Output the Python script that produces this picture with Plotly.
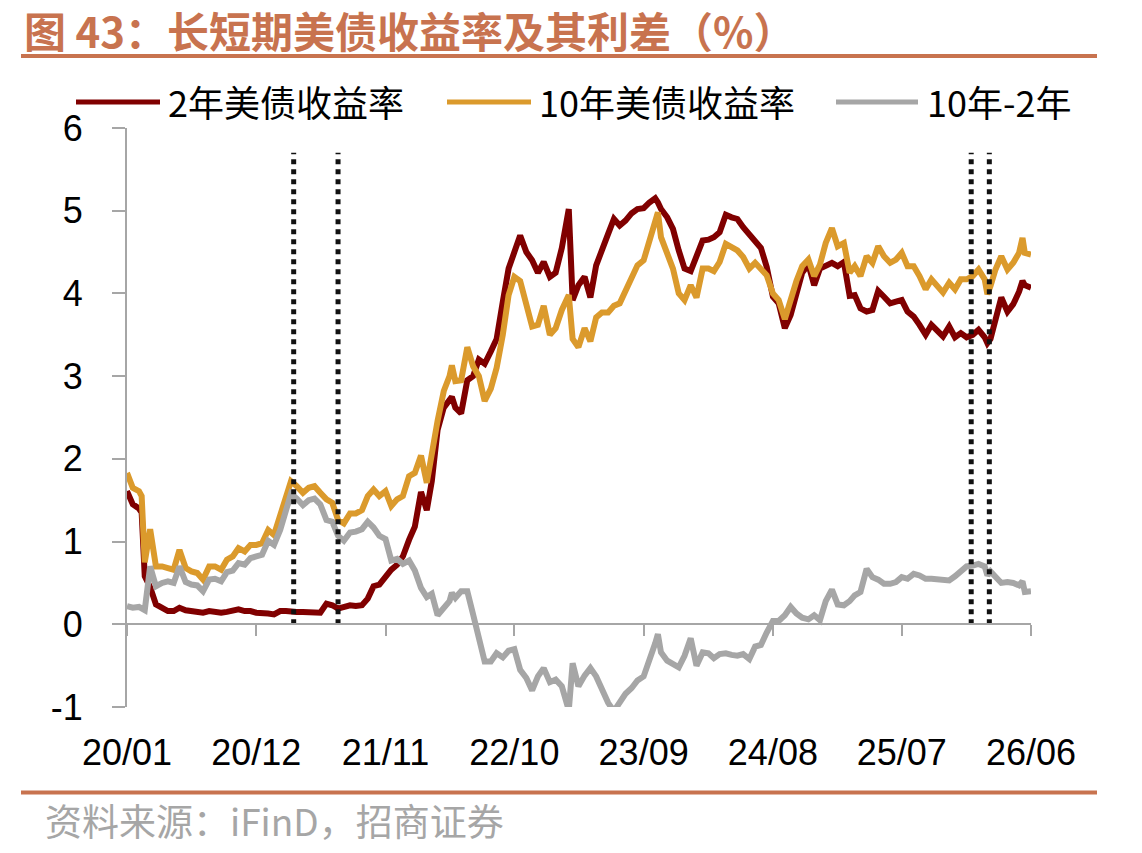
import plotly.graph_objects as go

# ---------------- data ----------------
dates = [
    "2020-01-01", "2020-01-16", "2020-02-01", "2020-02-08", "2020-02-16", "2020-03-01", "2020-03-16",
    "2020-04-01", "2020-04-16", "2020-05-01", "2020-05-16", "2020-06-01", "2020-06-16", "2020-07-01",
    "2020-07-16", "2020-08-01", "2020-08-16", "2020-09-01", "2020-09-16", "2020-10-01", "2020-10-16",
    "2020-11-01", "2020-11-16", "2020-12-01", "2020-12-16", "2021-01-01", "2021-01-16", "2021-02-01",
    "2021-02-16", "2021-03-01", "2021-03-16", "2021-04-01", "2021-04-16", "2021-05-01", "2021-05-16",
    "2021-06-01", "2021-06-16", "2021-07-01", "2021-07-16", "2021-08-01", "2021-08-16", "2021-09-01",
    "2021-09-16", "2021-10-01", "2021-10-16", "2021-11-01", "2021-11-16", "2021-12-01", "2021-12-16",
    "2022-01-01", "2022-01-16", "2022-02-01", "2022-02-16", "2022-03-01", "2022-03-16", "2022-04-01",
    "2022-04-16", "2022-04-22", "2022-05-01", "2022-05-16", "2022-06-01", "2022-06-16", "2022-07-01",
    "2022-07-16", "2022-08-01", "2022-08-16", "2022-09-01", "2022-09-16", "2022-10-01", "2022-10-16",
    "2022-11-01", "2022-11-16", "2022-12-01", "2022-12-16", "2023-01-01", "2023-01-16", "2023-02-01",
    "2023-02-19", "2023-03-01", "2023-03-16", "2023-04-01", "2023-04-16", "2023-05-01", "2023-05-16",
    "2023-06-01", "2023-06-16", "2023-07-01", "2023-07-16", "2023-08-01", "2023-08-16", "2023-09-01",
    "2023-09-16", "2023-10-01", "2023-10-08", "2023-10-16", "2023-11-01", "2023-11-16", "2023-12-01",
    "2023-12-16", "2024-01-01", "2024-01-16", "2024-02-01", "2024-02-16", "2024-03-01", "2024-03-16",
    "2024-04-01", "2024-04-16", "2024-05-01", "2024-05-16", "2024-06-01", "2024-06-16", "2024-07-01",
    "2024-07-16", "2024-08-01", "2024-08-16", "2024-09-01", "2024-09-16", "2024-10-01", "2024-10-16",
    "2024-11-01", "2024-11-16", "2024-12-01", "2024-12-16", "2025-01-01", "2025-01-16", "2025-02-01",
    "2025-02-16", "2025-03-01", "2025-03-16", "2025-04-01", "2025-04-16", "2025-05-01", "2025-05-16",
    "2025-06-01", "2025-06-16", "2025-07-01", "2025-07-16", "2025-08-01", "2025-08-16", "2025-09-01",
    "2025-09-16", "2025-10-01", "2025-10-16", "2025-11-01", "2025-11-16", "2025-12-01", "2025-12-16",
    "2026-01-01", "2026-01-16", "2026-02-01", "2026-02-08", "2026-02-16", "2026-03-01", "2026-03-16",
    "2026-04-01", "2026-04-16", "2026-05-01", "2026-05-10", "2026-05-16", "2026-06-01",
]

yield_10y = [
    1.83, 1.65, 1.61, 1.55, 0.75, 1.15, 0.70,
    0.70, 0.68, 0.66, 0.90, 0.68, 0.64, 0.62,
    0.54, 0.70, 0.70, 0.66, 0.78, 0.82, 0.92,
    0.88, 0.96, 0.96, 0.98, 1.14, 1.08, 1.30,
    1.52, 1.73, 1.67, 1.59, 1.65, 1.67, 1.59,
    1.51, 1.47, 1.26, 1.22, 1.34, 1.34, 1.38,
    1.55, 1.63, 1.55, 1.61, 1.43, 1.51, 1.55,
    1.79, 1.83, 2.04, 1.71, 2.10, 2.46, 2.82,
    3.00, 3.13, 2.94, 2.95, 3.35, 3.12, 3.00,
    2.70, 2.85, 3.10, 3.50, 3.98, 4.20, 4.15,
    3.85, 3.60, 3.62, 3.85, 3.50, 3.58, 3.80,
    3.98, 3.45, 3.35, 3.58, 3.42, 3.71, 3.77,
    3.77, 3.85, 3.88, 4.04, 4.20, 4.34, 4.40,
    4.65, 4.92, 4.98, 4.68, 4.48, 4.30, 4.00,
    3.92, 4.10, 3.95, 4.30, 4.30, 4.27, 4.38,
    4.60, 4.55, 4.52, 4.44, 4.30, 4.37, 4.30,
    4.22, 4.00, 3.92, 3.69, 3.95, 4.15, 4.33,
    4.41, 4.21, 4.35, 4.61, 4.79, 4.57, 4.61,
    4.25, 4.33, 4.21, 4.45, 4.37, 4.57, 4.45,
    4.37, 4.41, 4.49, 4.33, 4.33, 4.21, 4.05,
    4.17, 4.09, 4.01, 4.13, 4.05, 4.17, 4.17,
    4.21, 4.29, 4.17, 3.99, 4.09, 4.29, 4.45,
    4.29, 4.37, 4.49, 4.67, 4.49, 4.47,
]

yield_2y = [
    1.61, 1.45, 1.40, 1.35, 0.58, 0.45, 0.24,
    0.20, 0.16, 0.16, 0.20, 0.17, 0.16, 0.15,
    0.14, 0.16, 0.15, 0.14, 0.15, 0.17, 0.18,
    0.16, 0.16, 0.14, 0.14, 0.13, 0.12, 0.16,
    0.16, 0.15, 0.15, 0.15, 0.15, 0.15, 0.14,
    0.25, 0.23, 0.19, 0.21, 0.23, 0.22, 0.23,
    0.31, 0.46, 0.48, 0.58, 0.66, 0.72, 0.82,
    1.02, 1.18, 1.60, 1.38, 1.73, 2.35, 2.62,
    2.72, 2.75, 2.62, 2.55, 2.95, 3.00, 3.20,
    3.15, 3.30, 3.45, 3.90, 4.30, 4.50, 4.70,
    4.50, 4.40, 4.25, 4.38, 4.20, 4.25, 4.55,
    5.02, 3.92, 4.10, 4.20, 3.95, 4.34, 4.55,
    4.72, 4.90, 4.82, 4.88, 4.97, 5.02, 5.03,
    5.10, 5.15, 5.10, 5.02, 4.92, 4.78, 4.52,
    4.30, 4.27, 4.45, 4.64, 4.65, 4.68, 4.74,
    4.95, 4.92, 4.90, 4.80, 4.72, 4.64, 4.55,
    4.32, 3.96, 3.88, 3.58, 3.74, 4.02, 4.25,
    4.35, 4.10, 4.30, 4.33, 4.37, 4.33, 4.38,
    3.97, 3.98, 3.82, 3.78, 3.80, 4.03, 3.96,
    3.88, 3.90, 3.92, 3.78, 3.72, 3.62, 3.50,
    3.62, 3.55, 3.48, 3.60, 3.47, 3.52, 3.47,
    3.50, 3.56, 3.47, 3.40, 3.45, 3.71, 3.95,
    3.78, 3.87, 4.02, 4.15, 4.10, 4.07,
]

spread_10y_2y = [round(a - b, 2) for a, b in zip(yield_10y, yield_2y)]

marker_dates = ["2021-03-08", "2021-07-01", "2025-12-28", "2026-02-13"]
marker_top = 5.7

tick_dates = ["2020-01-01", "2020-12-01", "2021-11-01", "2022-10-01",
              "2023-09-01", "2024-08-01", "2025-07-01", "2026-06-01"]
tick_labels = ["20/01", "20/12", "21/11", "22/10", "23/09", "24/08", "25/07", "26/06"]
y_ticks = [-1, 0, 1, 2, 3, 4, 5, 6]
y_tick_labels = ["-1", "0", "1", "2", "3", "4", "5", "6"]

series_names = ["2年美债收益率", "10年美债收益率", "10年-2年"]
series_colors = ["#800000", "#DB9A2C", "#A6A6A6"]

title_text = "图 43：长短期美债收益率及其利差（%）"
source_text = "资料来源：iFinD，招商证券"

# ---------------- layout constants ----------------
W, H = 1142, 853
ML, MR, MT, MB = 127, 111, 128, 146
PW, PH = W - ML - MR, H - MT - MB
ACCENT = "#C8734F"
AXIS = "#A6A6A6"
CJK = "Noto Sans CJK SC"
LATIN = "Liberation Sans, Arial"


def px(xp):
    return (xp - ML) / PW


def py(yp):
    return (H - MB - yp) / PH


fig = go.Figure()

for name, vals, col in zip(series_names, [yield_2y, yield_10y, spread_10y_2y], series_colors):
    fig.add_trace(go.Scatter(x=dates, y=vals, mode="lines", name=name,
                             line=dict(color=col, width=6), showlegend=False,
                             hoverinfo="skip"))

for d in marker_dates:
    fig.add_trace(go.Scatter(x=[d, d], y=[0, marker_top], mode="lines",
                             line=dict(color="#111111", width=5, dash="5px,5px"),
                             showlegend=False, hoverinfo="skip"))

# helper trace for the zero-crossing axis
fig.add_trace(go.Scatter(x=[tick_dates[0], tick_dates[-1]], y=[None, None],
                         xaxis="x2", yaxis="y", mode="lines", showlegend=False,
                         hoverinfo="skip"))

x_range = [tick_dates[0], tick_dates[-1]]

fig.update_layout(
    width=W, height=H,
    margin=dict(l=ML, r=MR, t=MT, b=MB),
    paper_bgcolor="white", plot_bgcolor="white",
    xaxis=dict(type="date", range=x_range, tickvals=tick_dates, ticktext=tick_labels,
               showline=False, showgrid=False, zeroline=False, ticks="",
               ticklabelstandoff=21,
               tickfont=dict(family=LATIN, size=36, color="black")),
    xaxis2=dict(type="date", range=x_range, overlaying="x", anchor="free",
                position=1 / 7, matches="x", tickvals=tick_dates,
                showticklabels=False, showline=True, linecolor=AXIS, linewidth=2,
                ticks="outside", ticklen=11, tickwidth=2, tickcolor=AXIS,
                showgrid=False, zeroline=False),
    yaxis=dict(range=[-1, 6], tickvals=y_ticks, ticktext=y_tick_labels, showline=True,
               linecolor=AXIS, linewidth=2, ticks="outside", ticklen=13, tickwidth=2,
               tickcolor=AXIS, showgrid=False, zeroline=False, ticklabelstandoff=22,
               tickfont=dict(family=LATIN, size=36, color="black")),
)

shapes = []
annotations = []

# title and rules
annotations.append(dict(text=title_text, xref="paper", yref="paper", x=px(23), y=py(30),
                        xanchor="left", yanchor="middle", showarrow=False, borderpad=0,
                        font=dict(family=CJK, size=42, color=ACCENT, weight="bold")))
shapes.append(dict(type="line", xref="paper", yref="paper", x0=px(21), x1=px(1097),
                   y0=py(56), y1=py(56), line=dict(color=ACCENT, width=4)))
shapes.append(dict(type="line", xref="paper", yref="paper", x0=px(21), x1=px(1097),
                   y0=py(792.5), y1=py(792.5), line=dict(color=ACCENT, width=4)))
annotations.append(dict(text=source_text, xref="paper", yref="paper", x=px(43), y=py(820),
                        xanchor="left", yanchor="middle", showarrow=False,
                        font=dict(family=CJK, size=37, color="#A6A6A6")))

# legend
legend_line_x = [(76, 160), (447, 531), (836, 918)]
legend_text_x = [166, 537, 925]
for (x0, x1), tx, name, col in zip(legend_line_x, legend_text_x, series_names, series_colors):
    shapes.append(dict(type="line", xref="paper", yref="paper", x0=px(x0), x1=px(x1),
                       y0=py(102), y1=py(102), line=dict(color=col, width=5)))
    annotations.append(dict(text=name, xref="paper", yref="paper", x=px(tx), y=py(101),
                            xanchor="left", yanchor="middle", showarrow=False,
                            font=dict(family=CJK, size=36, color="black")))

fig.update_layout(shapes=shapes, annotations=annotations)

fig.write_html("out.html")
